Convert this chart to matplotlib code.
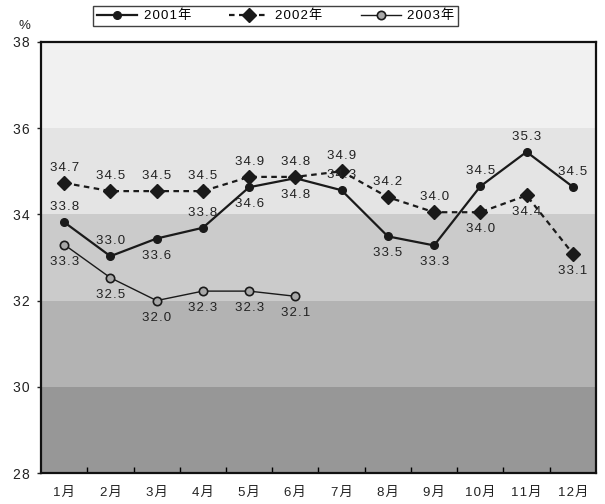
import matplotlib
matplotlib.use("Agg")
import matplotlib.pyplot as plt

plt.rcParams['font.family'] = ['Liberation Sans', 'Noto Sans CJK SC', 'DejaVu Sans']

months = ['1月', '2月', '3月', '4月', '5月', '6月', '7月', '8月', '9月', '10月', '11月', '12月']

# marker positions
y2001 = [33.82, 33.03, 33.44, 33.69, 34.63, 34.84, 34.56, 33.49, 33.28, 34.65, 35.45, 34.64]
y2002 = [34.73, 34.54, 34.54, 34.54, 34.87, 34.87, 35.0, 34.40, 34.05, 34.05, 34.44, 33.09]
y2003 = [33.30, 32.53, 32.0, 32.22, 32.22, 32.10]

# data labels as printed
lab2001 = ['33.8', '33.0', '33.6', '33.8', '34.6', '34.8', '34.3', '33.5', '33.3', '34.5', '35.3', '34.5']
lab2002 = ['34.7', '34.5', '34.5', '34.5', '34.9', '34.8', '34.9', '34.2', '34.0', '34.0', '34.4', '33.1']
lab2003 = ['33.3', '32.5', '32.0', '32.3', '32.3', '32.1']

pos2001 = ['u', 'u', 'd', 'u', 'd', 'd', 'u', 'd', 'd', 'u', 'u', 'u']
pos2002 = ['u', 'u', 'u', 'u', 'u', 'u', 'u', 'u', 'u', 'd', 'd', 'd']
pos2003 = ['d', 'd', 'd', 'd', 'd', 'd']

band_colors = ['#979797', '#b3b3b3', '#cbcbcb', '#e4e4e4', '#f1f1f1']


def sp(s):
    # the original text is drawn with loose letter spacing
    return '\u200a'.join(s)


fig = plt.figure(figsize=(6.05, 5.04), dpi=100)
ax = fig.add_axes([0.0678, 0.0615, 0.9172, 0.8552])

for i, c in enumerate(band_colors):
    ax.axhspan(28 + 2 * i, 30 + 2 * i, color=c, lw=0, zorder=0)

x = list(range(len(months)))
l1, = ax.plot(x, y2001, color='#1a1a1a', lw=1.6, marker='o', ms=5.5, label=sp('2001年'), zorder=3)
l2, = ax.plot(x, y2002, color='#1a1a1a', lw=1.6, ls=(0, (2.5, 2)), marker='D', ms=7, label=sp('2002年'), zorder=3)
l3, = ax.plot(x[:len(y2003)], y2003, color='#1a1a1a', lw=1, marker='o', ms=6,
              mfc='#a8a8a8', mec='#1a1a1a', mew=1.2, label=sp('2003年'), zorder=3)


def put_labels(vals, labs, poss):
    for i, (v, t, p) in enumerate(zip(vals, labs, poss)):
        off = 15 if p == 'u' else -17
        ax.annotate(sp(t), (i, v), xytext=(0, off), textcoords='offset pixels',
                    ha='center', va='center', fontsize=9.5, color='#222222', zorder=4)


put_labels(y2001, lab2001, pos2001)
put_labels(y2002, lab2002, pos2002)
put_labels(y2003, lab2003, pos2003)

ax.set_xlim(-0.5, 11.5)
ax.set_ylim(28, 38)
yt = list(range(28, 39, 2))
ax.set_yticks(yt)
ax.set_yticklabels([sp(str(v)) for v in yt])
ax.set_xticks(x)
ax.set_xticklabels([sp(m) for m in months], fontsize=9.5, color='#222222')
ax.set_xticks([i + 0.5 for i in range(11)], minor=True)
ax.tick_params(axis='x', which='major', length=0, pad=10)
ax.tick_params(axis='x', which='minor', direction='in', length=4, width=1)
ax.tick_params(axis='y', direction='out', length=3, width=1, labelsize=10, colors='#222222', pad=5)
for s in ax.spines.values():
    s.set_linewidth(1.6)
    s.set_color('#111111')

fig.text(0.041, 0.948, '%', fontsize=9.5, color='#222222', ha='center', va='center')

leg = fig.legend(handles=[l1, l2, l3], loc='center', bbox_to_anchor=(0.456, 0.968), ncol=3,
                 fontsize=9.5, frameon=True, fancybox=False, handlelength=3.0,
                 columnspacing=2.9, borderpad=0.3, handletextpad=0.5, borderaxespad=0)
leg.get_frame().set_edgecolor('#111111')
leg.get_frame().set_linewidth(1.0)

fig.savefig('out.png', dpi=100)
